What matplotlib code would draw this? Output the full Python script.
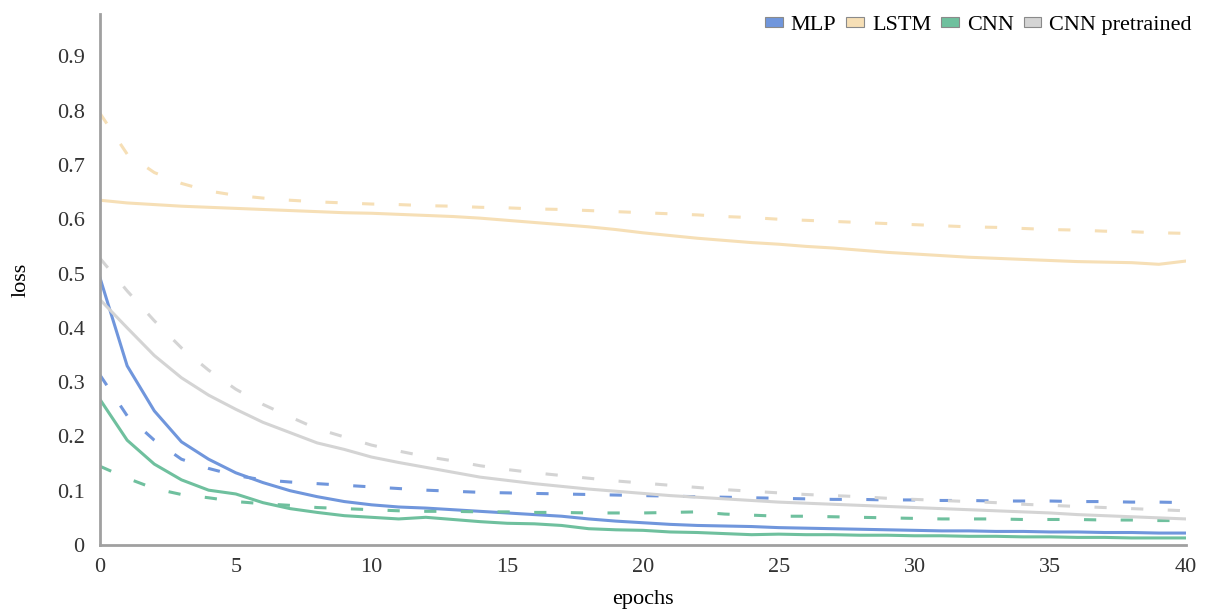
import matplotlib.pyplot as plt
from matplotlib.patches import Patch

plt.rcParams['font.family'] = ['Liberation Serif', 'DejaVu Serif']

# Données (trait plein = train, pointillés = validation)
epochs = list(range(41))

mlp = [0.492, 0.33, 0.247, 0.19, 0.158, 0.133, 0.115, 0.100, 0.089, 0.080, 0.074,
       0.070, 0.068, 0.065, 0.062, 0.059, 0.056, 0.053, 0.048, 0.044, 0.041,
       0.038, 0.036, 0.035, 0.034, 0.032, 0.031, 0.030, 0.029, 0.028, 0.027,
       0.026, 0.026, 0.025, 0.025, 0.024, 0.024, 0.023, 0.023, 0.022, 0.022]
mlp_val = [0.313, 0.238, 0.193, 0.158, 0.141, 0.128, 0.120, 0.116, 0.113, 0.110, 0.107,
           0.104, 0.101, 0.099, 0.097, 0.096, 0.095, 0.094, 0.093, 0.092, 0.091,
           0.090, 0.089, 0.088, 0.087, 0.086, 0.085, 0.084, 0.084, 0.083, 0.083,
           0.082, 0.082, 0.081, 0.081, 0.081, 0.080, 0.080, 0.079, 0.079, 0.078]

lstm = [0.635, 0.630, 0.627, 0.624, 0.622, 0.620, 0.618, 0.616, 0.614, 0.612, 0.611,
        0.609, 0.607, 0.605, 0.602, 0.598, 0.594, 0.590, 0.586, 0.581, 0.575,
        0.570, 0.565, 0.561, 0.557, 0.554, 0.550, 0.547, 0.543, 0.539, 0.536,
        0.533, 0.530, 0.528, 0.526, 0.524, 0.522, 0.521, 0.520, 0.517, 0.523]
lstm_val = [0.795, 0.72, 0.686, 0.666, 0.652, 0.644, 0.639, 0.635, 0.632, 0.630, 0.628,
            0.627, 0.625, 0.624, 0.622, 0.621, 0.619, 0.618, 0.616, 0.614, 0.612,
            0.610, 0.608, 0.605, 0.603, 0.600, 0.598, 0.596, 0.594, 0.592, 0.590,
            0.588, 0.586, 0.585, 0.583, 0.581, 0.580, 0.578, 0.577, 0.575, 0.574]

cnn = [0.268, 0.193, 0.149, 0.12, 0.101, 0.094, 0.078, 0.067, 0.060, 0.054, 0.051,
       0.048, 0.051, 0.047, 0.043, 0.040, 0.039, 0.036, 0.030, 0.028, 0.027,
       0.024, 0.023, 0.021, 0.019, 0.020, 0.019, 0.019, 0.018, 0.018, 0.017,
       0.017, 0.016, 0.016, 0.015, 0.015, 0.014, 0.014, 0.013, 0.013, 0.013]
cnn_val = [0.145, 0.123, 0.104, 0.093, 0.087, 0.080, 0.076, 0.073, 0.069, 0.067, 0.065,
           0.063, 0.062, 0.062, 0.061, 0.061, 0.060, 0.060, 0.059, 0.059, 0.059,
           0.060, 0.061, 0.057, 0.055, 0.053, 0.053, 0.052, 0.051, 0.050, 0.049,
           0.048, 0.048, 0.048, 0.047, 0.047, 0.047, 0.046, 0.046, 0.045, 0.045]

cnn_pre = [0.452, 0.40, 0.349, 0.308, 0.276, 0.250, 0.226, 0.207, 0.188, 0.176, 0.162,
           0.152, 0.143, 0.134, 0.125, 0.119, 0.113, 0.108, 0.103, 0.099, 0.095,
           0.091, 0.088, 0.085, 0.082, 0.079, 0.077, 0.075, 0.073, 0.071, 0.069,
           0.067, 0.065, 0.063, 0.061, 0.059, 0.056, 0.054, 0.052, 0.050, 0.048]
cnn_pre_val = [0.528, 0.468, 0.413, 0.363, 0.322, 0.287, 0.259, 0.236, 0.214, 0.199, 0.184,
               0.173, 0.163, 0.155, 0.146, 0.139, 0.133, 0.128, 0.123, 0.118, 0.114,
               0.110, 0.106, 0.102, 0.099, 0.096, 0.093, 0.091, 0.089, 0.086, 0.084,
               0.082, 0.080, 0.078, 0.075, 0.073, 0.071, 0.069, 0.067, 0.065, 0.063]

labels = ['MLP', 'LSTM', 'CNN', 'CNN pretrained']
couleurs = ['#7096dc', '#f6dfb6', '#6fc09e', '#d4d4d4']
series = [(mlp, mlp_val), (lstm, lstm_val), (cnn, cnn_val), (cnn_pre, cnn_pre_val)]

fig = plt.figure(figsize=(12.05, 6.1), dpi=100)
ax = fig.add_axes([100 / 1205, 1 - 545 / 610, 1086 / 1205, 531 / 610])

for (train, val), c in zip(series, couleurs):
    ax.plot(epochs, train, color=c, lw=2.2, solid_joinstyle='round')
    ax.plot(epochs, val, color=c, lw=2.2, dashes=(4, 8))

ax.set_xlim(0, 40)
ax.set_ylim(0, 0.978)
ax.set_xticks(range(0, 41, 5))
ax.set_yticks([0, 0.1, 0.2, 0.3, 0.4, 0.5, 0.6, 0.7, 0.8, 0.9])
ax.set_yticklabels(['0', '0.1', '0.2', '0.3', '0.4', '0.5', '0.6', '0.7', '0.8', '0.9'])
ax.tick_params(length=0, labelsize=16, colors='#333333', pad=9)
ax.tick_params(axis='y', pad=11)

for cote in ['top', 'right']:
    ax.spines[cote].set_visible(False)
for cote in ['left', 'bottom']:
    ax.spines[cote].set_color('#a0a0a0')
    ax.spines[cote].set_linewidth(2)

ax.set_xlabel('epochs', fontsize=16, labelpad=10)
ax.set_ylabel('loss', fontsize=16, labelpad=19)

poignees = [Patch(facecolor=c, edgecolor='#8a8a8a', lw=0.8) for c in couleurs]
fig.legend(poignees, labels, loc='upper right', bbox_to_anchor=(1.0, 0.995), ncol=4,
           frameon=False, fontsize=16, handlelength=0.8, handleheight=0.3,
           handletextpad=0.35, columnspacing=0.45, borderaxespad=0.2)

fig.savefig('out.png', dpi=100)
